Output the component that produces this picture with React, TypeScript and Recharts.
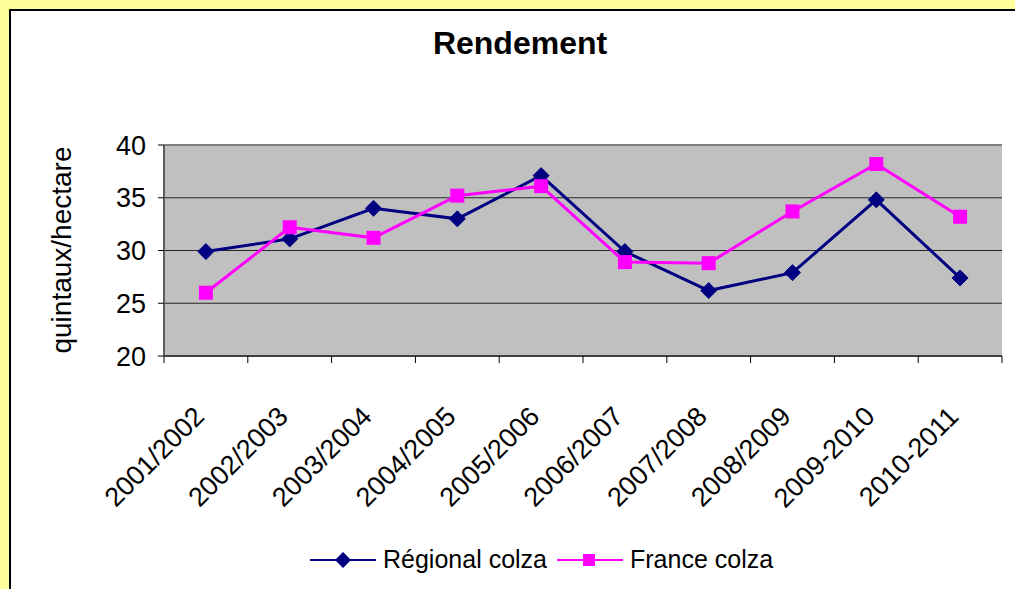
import { LineChart, Line, XAxis, YAxis, CartesianGrid, ReferenceLine } from 'recharts';

const campaigns = [
  '2001/2002',
  '2002/2003',
  '2003/2004',
  '2004/2005',
  '2005/2006',
  '2006/2007',
  '2007/2008',
  '2008/2009',
  '2009-2010',
  '2010-2011',
];
const regionalColza = [29.9, 31.1, 34.0, 33.0, 37.1, 29.9, 26.2, 27.9, 34.8, 27.4];
const franceColza = [26.0, 32.2, 31.2, 35.2, 36.1, 28.9, 28.8, 33.7, 38.2, 33.2];
const yTicks = [20, 25, 30, 35, 40];

const data = campaigns.map((c, i) => ({
  campaign: c,
  regional: regionalColza[i],
  france: franceColza[i],
}));

const FONT = 'Arial, "Liberation Sans", sans-serif';
const NAVY = '#000080';
const MAGENTA = '#FF00FF';

// half a category, used for the excel-style ticks between categories
const HALF_BAND = (1015 - 164 - 13) / campaigns.length / 2;

function Diamond(props: any) {
  const { cx, cy } = props;
  if (cx == null || cy == null) return null;
  const r = 8;
  return (
    <path
      d={`M${cx},${cy - r}L${cx + r},${cy}L${cx},${cy + r}L${cx - r},${cy}Z`}
      fill={NAVY}
      stroke={NAVY}
    />
  );
}

function Square(props: any) {
  const { cx, cy } = props;
  if (cx == null || cy == null) return null;
  const s = 7;
  return <rect x={cx - s} y={cy - s} width={s * 2} height={s * 2} fill={MAGENTA} />;
}

function CampaignTick(props: any) {
  const { x, y, payload, index } = props;
  const half = payload?.offset || HALF_BAND;
  const axisY = y - 8;
  return (
    <g>
      <line x1={x - half} y1={axisY} x2={x - half} y2={axisY + 7} stroke="#000" />
      {index === campaigns.length - 1 && (
        <line x1={x + half} y1={axisY} x2={x + half} y2={axisY + 7} stroke="#000" />
      )}
      <text
        x={x}
        y={axisY + 62}
        transform={`rotate(-45, ${x}, ${axisY + 62})`}
        textAnchor="end"
        fontSize={27}
        fontFamily={FONT}
        fill="#000"
      >
        {payload.value}
      </text>
    </g>
  );
}

function LegendItem({ label, color, marker }: { label: string; color: string; marker: 'diamond' | 'square' }) {
  return (
    <span style={{ display: 'inline-flex', alignItems: 'center' }}>
      <svg width={66} height={20} style={{ marginRight: 7 }}>
        <line x1={0} y1={10} x2={66} y2={10} stroke={color} strokeWidth={2} />
        {marker === 'diamond' ? (
          <path d="M33,2L41,10L33,18L25,10Z" fill={color} />
        ) : (
          <rect x={26} y={4} width={12} height={12} fill={color} />
        )}
      </svg>
      <span>{label}</span>
    </span>
  );
}

export default function App() {
  return (
    <div
      style={{
        position: 'absolute',
        left: 0,
        top: 0,
        width: 1015,
        height: 589,
        background: '#FFFF99',
        overflow: 'hidden',
        fontFamily: FONT,
      }}
    >
      <div
        style={{
          position: 'absolute',
          left: 9,
          top: 9,
          width: 1020,
          height: 600,
          background: '#fff',
          borderLeft: '2px solid #000',
          borderTop: '2px solid #000',
        }}
      />
      <div
        style={{
          position: 'absolute',
          left: 0,
          top: 25,
          width: 1040,
          textAlign: 'center',
          fontSize: 32,
          fontWeight: 'bold',
        }}
      >
        Rendement
      </div>
      <div
        style={{
          position: 'absolute',
          left: 62,
          top: 250,
          transform: 'translate(-50%, -50%) rotate(-90deg)',
          fontSize: 28,
          whiteSpace: 'nowrap',
        }}
      >
        quintaux/hectare
      </div>
      <div style={{ position: 'absolute', left: 0, top: 0 }}>
        <LineChart
          width={1015}
          height={589}
          data={data}
          margin={{ top: 145, right: 13, bottom: 133, left: 0 }}
        >
          <CartesianGrid vertical={false} fill="#C0C0C0" stroke="#000" strokeOpacity={0.8} />
          <XAxis
            dataKey="campaign"
            height={100}
            interval={0}
            padding={{ left: HALF_BAND, right: HALF_BAND }}
            tickLine={false}
            axisLine={{ stroke: '#404040', strokeWidth: 2 }}
            tick={<CampaignTick />}
          />
          <YAxis
            width={164}
            domain={[20, 40]}
            ticks={yTicks}
            allowDataOverflow
            tickSize={6}
            tickMargin={12}
            axisLine={{ stroke: '#606060', strokeWidth: 2 }}
            tickLine={{ stroke: '#000' }}
            tick={{ fontSize: 27, fontFamily: FONT, fill: '#000' }}
          />
          <YAxis
            yAxisId="frame"
            orientation="right"
            width={0}
            domain={[20, 40]}
            tick={false}
            tickLine={false}
            axisLine={{ stroke: '#808080', strokeWidth: 2 }}
          />
          <ReferenceLine y={40} stroke="#808080" strokeWidth={2} />
          <Line
            type="linear"
            dataKey="regional"
            name="Régional colza"
            stroke={NAVY}
            strokeWidth={3}
            dot={<Diamond />}
            activeDot={false}
            isAnimationActive={false}
          />
          <Line
            type="linear"
            dataKey="france"
            name="France colza"
            stroke={MAGENTA}
            strokeWidth={3}
            dot={<Square />}
            activeDot={false}
            isAnimationActive={false}
          />
        </LineChart>
      </div>
      <div
        style={{
          position: 'absolute',
          left: 310,
          top: 545,
          fontSize: 25,
          display: 'flex',
          alignItems: 'center',
          gap: 10,
          whiteSpace: 'nowrap',
        }}
      >
        <LegendItem label="Régional colza" color={NAVY} marker="diamond" />
        <LegendItem label="France colza" color={MAGENTA} marker="square" />
      </div>
    </div>
  );
}
